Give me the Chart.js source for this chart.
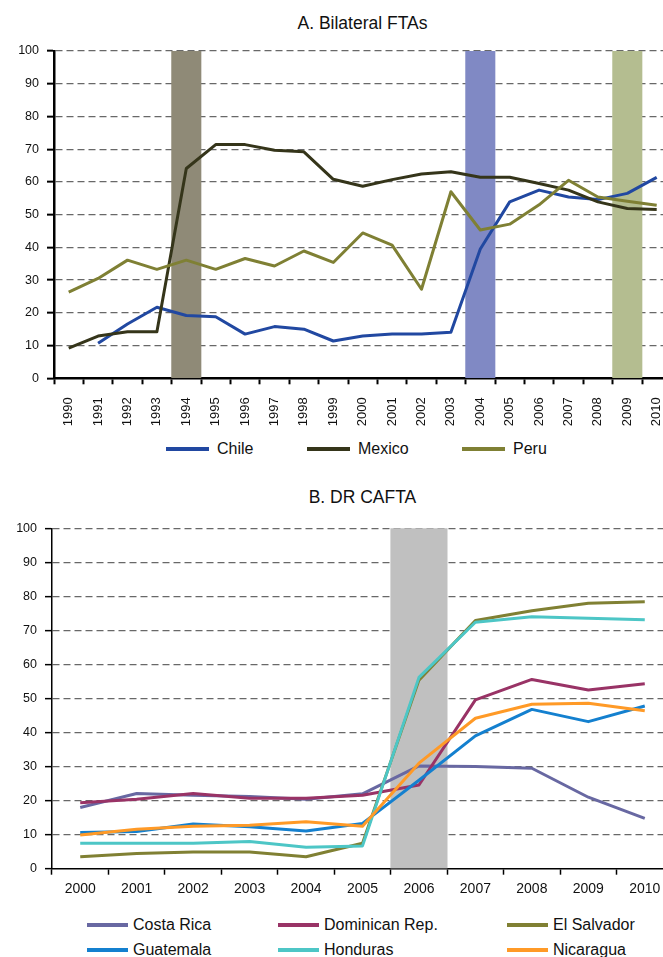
<!DOCTYPE html>
<html>
<head>
<meta charset="utf-8">
<script src="https://cdn.jsdelivr.net/npm/chart.js@4.4.1/dist/chart.umd.min.js"></script>
<style>
  html, body { margin: 0; padding: 0; background: #fff; overflow: hidden; }
  body { width: 663px; height: 957px; position: relative; font-family: 'Liberation Sans', Arial, Helvetica, sans-serif; color: #111; }
  .panel { position: absolute; left: 0; }
  .title { position: absolute; text-align: center; font-size: 17.5px; line-height: 1; white-space: nowrap; }
  .legend-item { position: absolute; display: flex; align-items: center; font-size: 16px; line-height: 16px; white-space: nowrap; }
  .legend-line { display: inline-block; width: 43px; height: 4px; margin-right: 8px; }
  #legendB .legend-line { width: 41px; margin-right: 5px; }
</style>
</head>
<body>
<div class="title" style="left:54px;width:617px;top:15px">A. Bilateral FTAs</div>
<div class="panel" style="top:0;width:674px;height:440px"><canvas id="chartA" width="674" height="440"></canvas></div>
<div id="legendA"></div>

<div class="title" style="left:52px;width:621px;top:489px">B. DR CAFTA</div>
<div class="panel" style="top:470px;width:676px;height:440px"><canvas id="chartB" width="676" height="440"></canvas></div>
<div id="legendB"></div>

<script>
// Panel A: bilateral FTAs, 1990-2010
const yearsA = ['1990', '1991', '1992', '1993', '1994', '1995', '1996', '1997', '1998', '1999', '2000',
                '2001', '2002', '2003', '2004', '2005', '2006', '2007', '2008', '2009', '2010'];
const chile = [null, 10.7, 16.6, 21.7, 19.2, 18.8, 13.5, 15.8, 15.0, 11.4, 12.9,
               13.5, 13.5, 14.1, 39.5, 53.9, 57.5, 55.4, 54.6, 56.5, 61.4];
const mexico = [9.2, 12.9, 14.2, 14.2, 64.1, 71.4, 71.4, 69.7, 69.2, 60.8, 58.7,
                60.7, 62.4, 63.1, 61.4, 61.4, 59.5, 57.5, 53.9, 51.9, 51.6];
const peru = [26.3, 30.5, 36.1, 33.3, 36.1, 33.3, 36.6, 34.3, 38.9, 35.4, 44.4,
              40.7, 27.2, 57.0, 45.3, 47.1, 53.0, 60.5, 55.4, 54.1, 52.9];
const agreementYearsA = ['1994', '2004', '2009'];

// Panel B: DR-CAFTA, 2000-2010
const yearsB = ['2000', '2001', '2002', '2003', '2004', '2005', '2006', '2007', '2008', '2009', '2010'];
const costaRica = [18.0, 22.1, 21.6, 21.2, 20.4, 22.0, 30.2, 30.0, 29.5, 21.0, 14.8];
const dominicanRep = [19.4, 20.4, 22.1, 20.7, 20.7, 21.6, 24.6, 49.6, 55.6, 52.5, 54.3];
const elSalvador = [3.5, 4.5, 4.9, 4.9, 3.5, 7.5, 55.4, 72.9, 75.8, 78.0, 78.4];
const guatemala = [10.6, 10.9, 13.1, 12.3, 11.1, 13.3, 26.0, 39.0, 46.8, 43.2, 47.8];
const honduras = [7.5, 7.5, 7.5, 8.0, 6.3, 6.7, 56.2, 72.4, 74.0, 73.6, 73.1];
const nicaragua = [9.9, 11.6, 12.5, 12.8, 13.8, 12.5, 31.0, 44.2, 48.3, 48.6, 46.4];
const agreementYearsB = ['2006'];

const seriesA = [
  { label: 'Chile', data: chile, color: '#2148a1' },
  { label: 'Mexico', data: mexico, color: '#35351a' },
  { label: 'Peru', data: peru, color: '#7f8034' }
];
const bandColorsA = ['#8f8a77', '#8089c4', '#b4bd90'];

const seriesB = [
  { label: 'Costa Rica', data: costaRica, color: '#6868a2' },
  { label: 'Dominican Rep.', data: dominicanRep, color: '#993366' },
  { label: 'El Salvador', data: elSalvador, color: '#808033' },
  { label: 'Guatemala', data: guatemala, color: '#1480cf' },
  { label: 'Honduras', data: honduras, color: '#4dc6c6' },
  { label: 'Nicaragua', data: nicaragua, color: '#ff9a27' }
];
const bandColorsB = ['#c0c0c0'];

Chart.defaults.font.family = "'Liberation Sans', Arial, Helvetica, sans-serif";
Chart.defaults.color = '#111';

function bandDataset(years, bandYears, colors) {
  return {
    type: 'bar',
    data: years.map((y) => (bandYears.includes(y) ? 100 : null)),
    backgroundColor: years.map((y) => {
      const i = bandYears.indexOf(y);
      return i >= 0 ? colors[i] : 'rgba(0,0,0,0)';
    }),
    barPercentage: 1,
    categoryPercentage: 1,
    order: 100
  };
}

function lineDatasets(series) {
  // later series sit on top of earlier ones
  return series.map((s, i) => ({
    type: 'line',
    label: s.label,
    data: s.data,
    borderColor: s.color,
    backgroundColor: s.color,
    borderWidth: 3,
    pointRadius: 0,
    tension: 0,
    borderJoinStyle: 'round',
    fill: false,
    order: series.length - i
  }));
}

function buildChart(canvasId, years, series, bandYears, bandColors, opts) {
  const ctx = document.getElementById(canvasId);
  return new Chart(ctx, {
    type: 'line',
    data: {
      labels: years,
      datasets: [bandDataset(years, bandYears, bandColors), ...lineDatasets(series)]
    },
    options: {
      responsive: false,
      animation: false,
      layout: { padding: opts.padding },
      plugins: { legend: { display: false }, tooltip: { enabled: false }, title: { display: false } },
      scales: {
        x: {
          type: 'category',
          offset: true,
          grid: {
            offset: true,
            drawOnChartArea: false,
            drawTicks: true,
            tickLength: 6,
            tickColor: '#000',
            tickWidth: opts.tickWidth,
            color: '#000'
          },
          border: { color: '#000', width: opts.axisWidth },
          ticks: {
            autoSkip: false,
            minRotation: opts.xRotation,
            maxRotation: opts.xRotation,
            padding: opts.xPad,
            color: '#111',
            font: { size: opts.xFont }
          },
          afterFit: (s) => {
            s.height = opts.xHeight;
            s.paddingLeft = 0;
            s.paddingRight = 0;
          }
        },
        y: {
          min: 0,
          max: 100,
          ticks: { stepSize: 10, padding: 8, color: '#111', font: { size: 12.5 } },
          grid: {
            color: (c) => (c.tick && c.tick.value === 0 ? 'rgba(0,0,0,0)' : '#686868'),
            lineWidth: 1.3,
            drawTicks: true,
            tickLength: 7,
            tickColor: '#000',
            tickWidth: opts.tickWidth
          },
          border: { color: '#000', width: opts.axisWidth, dash: [7, 4] },
          afterFit: (s) => { s.width = opts.yWidth; }
        }
      }
    }
  });
}

function buildLegend(containerId, series, cols, rows) {
  const box = document.getElementById(containerId);
  series.forEach((s, i) => {
    const item = document.createElement('div');
    item.className = 'legend-item';
    const col = i % cols.length;
    const row = Math.floor(i / cols.length);
    item.style.left = cols[col] + 'px';
    item.style.top = rows[row] + 'px';
    const line = document.createElement('span');
    line.className = 'legend-line';
    line.style.background = s.color;
    const text = document.createElement('span');
    text.textContent = s.label;
    item.appendChild(line);
    item.appendChild(text);
    box.appendChild(item);
  });
}

buildChart('chartA', yearsA, seriesA, agreementYearsA, bandColorsA, {
  padding: { left: 0, top: 51, right: 2.6, bottom: 0 },
  yWidth: 54,
  xHeight: 61.7,
  xRotation: 90,
  xPad: 13,
  xFont: 13,
  axisWidth: 2.5,
  tickWidth: 2
});

buildChart('chartB', yearsB, seriesB, agreementYearsB, bandColorsB, {
  padding: { left: 0, top: 58.3, right: 3, bottom: 0 },
  yWidth: 52,
  xHeight: 41.3,
  xRotation: 0,
  xPad: 6,
  xFont: 14,
  axisWidth: 1.5,
  tickWidth: 1.5
});

buildLegend('legendA', seriesA, [166, 307, 462], [441]);
buildLegend('legendB', seriesB, [87, 278, 507], [917, 942]);
</script>
</body>
</html>
